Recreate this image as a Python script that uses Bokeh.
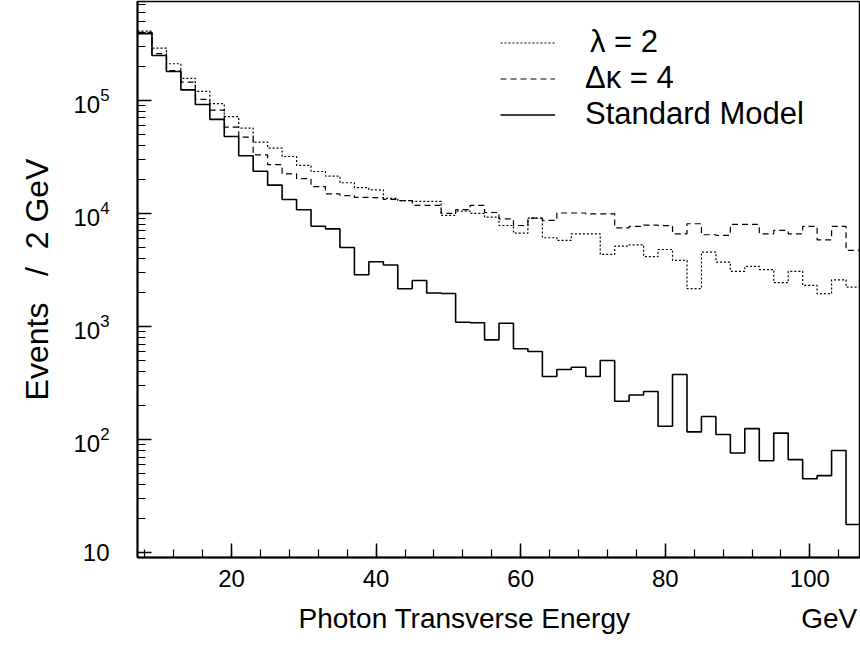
from bokeh.plotting import figure
from bokeh.models import (Range1d, Legend, LegendItem, Title, LogTicker,
                          SingleIntervalTicker)
from bokeh.embed import file_html
from bokeh.resources import INLINE

# ---- data (events per 2 GeV bin, bins from 7 to 107 GeV) ----
bin_start = 7
bin_width = 2

standard_model = [3.9e5, 2.5e5, 1.8e5, 1.24e5, 9.2e4, 6.8e4, 4.8e4, 3.24e4, 2.36e4, 1.78e4,
                  1.33e4, 1.08e4, 7.7e3, 7.3e3, 5.0e3, 2.87e3, 3.74e3, 3.5e3, 2.16e3, 2.55e3,
                  1.98e3, 1.96e3, 1.09e3, 1.08e3, 762, 1.07e3, 636, 601, 361, 416,
                  436, 361, 500, 218, 248, 266, 131, 376, 117, 160,
                  111, 76, 125, 65, 114, 66.5, 45, 48, 80, 17.7]

delta_kappa_4 = [4.0e5, 2.59e5, 1.84e5, 1.45e5, 1.02e5, 8.2e4, 5.8e4, 4.73e4, 3.3e4, 2.7e4,
                 2.24e4, 2.03e4, 1.73e4, 1.49e4, 1.44e4, 1.39e4, 1.38e4, 1.33e4, 1.30e4, 1.18e4,
                 1.18e4, 1.0e4, 1.08e4, 1.18e4, 1.02e4, 8970, 7830, 9080, 8670, 1.01e4,
                 1.01e4, 9930, 9930, 7470, 7680, 7900, 7800, 6610, 8110, 6480,
                 6390, 8000, 8000, 6610, 7080, 6610, 7680, 5850, 7680, 4710]

lambda_2 = [4.1e5, 2.9e5, 2.11e5, 1.57e5, 1.2e5, 9.35e4, 7.2e4, 5.69e4, 4.28e4, 3.79e4,
            3.19e4, 2.66e4, 2.35e4, 2.14e4, 1.87e4, 1.69e4, 1.62e4, 1.36e4, 1.30e4, 1.28e4,
            1.28e4, 9600, 1.05e4, 1.0e4, 9270, 7830, 6700, 9080, 6100, 5770,
            6610, 6610, 4340, 5140, 5280, 4160, 4800, 3840, 2160, 4550,
            3710, 3080, 3400, 3190, 2440, 3080, 2310, 1950, 2590, 2230]

legend_labels = ["λ = 2", "Δκ = 4", "Standard Model"]
x_major_ticks = 20
y_tick_overrides = {10: "10"}

n_bins = len(standard_model)
edges = [bin_start + bin_width * i for i in range(n_bins + 1)]

FONT = "Liberation Sans"
NB = "\u00a0"

p = figure(width=860, height=651, y_axis_type="log",
           x_range=Range1d(edges[0], edges[-1]), y_range=Range1d(9.05, 7.5e5),
           output_backend="svg", toolbar_location=None,
           min_border_left=137, min_border_right=0, min_border_top=1, min_border_bottom=94)
p.background_fill_color = "white"
p.border_fill_color = "white"
p.outline_line_color = "black"
p.outline_line_width = 1.5
p.xgrid.visible = False
p.ygrid.visible = False

def steps(vals):
    return list(vals) + [vals[-1]]

r_lam = p.step(edges, steps(lambda_2), mode="after", line_color="black",
               line_width=1.2, line_dash="2 2")
r_dk = p.step(edges, steps(delta_kappa_4), mode="after", line_color="black",
              line_width=1.2, line_dash="6 4")
r_sm = p.step(edges, steps(standard_model), mode="after", line_color="black",
              line_width=1.6)

# axes
for ax in (p.xaxis[0], p.yaxis[0]):
    ax.axis_line_width = 2
    ax.axis_line_color = "black"
    ax.major_tick_in = 14
    ax.major_tick_out = 0
    ax.minor_tick_in = 8
    ax.minor_tick_out = 0
    ax.major_tick_line_width = 1.5
    ax.minor_tick_line_width = 1.2
    ax.major_label_text_font = FONT
    ax.major_label_text_font_size = "24px"
    ax.major_label_text_color = "black"

p.xaxis[0].ticker = SingleIntervalTicker(interval=x_major_ticks, num_minor_ticks=5)
p.xaxis[0].major_label_standoff = 12
p.yaxis[0].ticker = LogTicker(num_minor_ticks=10)
p.yaxis[0].major_label_standoff = 28
p.yaxis[0].major_label_overrides = y_tick_overrides

# axis titles (x title and its unit share one line)
p.add_layout(Title(text="Photon Transverse Energy" + NB * 22 + "GeV",
                   align="left", offset=161, standoff=22,
                   text_font=FONT, text_font_size="28px", text_font_style="normal",
                   text_color="black"), "below")
p.add_layout(Title(text="Events" + NB * 3 + "/" + NB * 2 + "2" + NB + "GeV",
                   align="center", offset=15, standoff=31, text_font=FONT,
                   text_font_size="32px", text_font_style="normal",
                   text_color="black"), "left")

# legend: one single-row legend per entry so the row pitch can be set
legend_rows = [(r_lam, legend_labels[0], 497, 35),
               (r_dk, legend_labels[1], 461, 30),
               (r_sm, legend_labels[2], 425, 30)]
for rend, lab, yloc, standoff in legend_rows:
    lg = Legend(items=[LegendItem(label=lab, renderers=[rend])], location=(363, yloc))
    lg.border_line_color = None
    lg.background_fill_alpha = 0
    lg.label_text_font = FONT
    lg.label_text_font_size = "31px"
    lg.label_text_color = "black"
    lg.glyph_width = 55
    lg.glyph_height = 31
    lg.label_height = 31
    lg.label_standoff = standoff
    lg.padding = 0
    lg.spacing = 0
    lg.margin = 0
    p.add_layout(lg)

open("out.html", "w").write(file_html(p, INLINE))
